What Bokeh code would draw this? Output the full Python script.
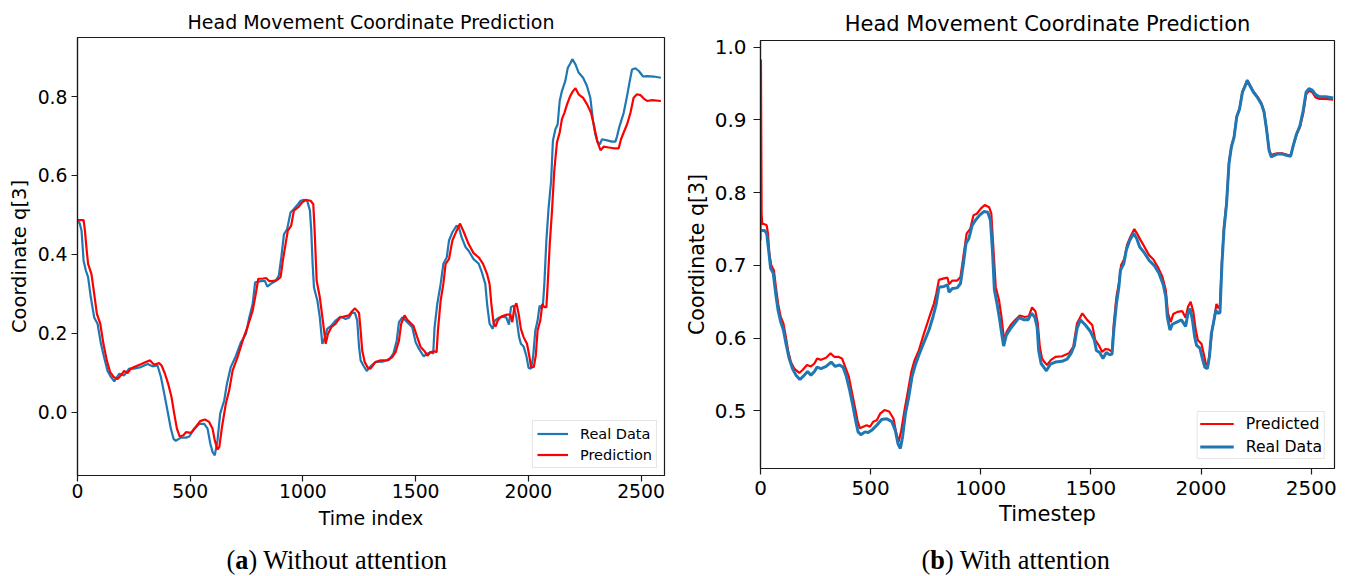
from bokeh.plotting import figure
from bokeh.layouts import row, column
from bokeh.models import Range1d, FixedTicker, PrintfTickFormatter
from bokeh.core.properties import value
from bokeh.embed import file_html
from bokeh.resources import INLINE

# ---------------------------------------------------------------------------
# Data: (time index, coordinate q[3]) samples for each series
# ---------------------------------------------------------------------------
no_att_real = [
    (0, 0.487), (10, 0.478), (18, 0.46), (27, 0.384), (37, 0.359), (47, 0.342), (59, 0.291),
    (74, 0.24), (89, 0.224), (104, 0.173), (118, 0.139), (133, 0.105), (148, 0.089), (163, 0.078),
    (185, 0.097), (207, 0.093), (229, 0.110), (251, 0.110), (281, 0.114), (311, 0.122), (333, 0.116),
    (355, 0.118), (370, 0.089), (385, 0.046), (399, 0.004), (414, -0.042), (426, -0.068), (436, -0.073),
    (459, -0.065), (481, -0.065), (496, -0.062), (518, -0.042), (540, -0.030), (562, -0.030),
    (577, -0.042), (589, -0.080), (599, -0.101), (609, -0.110), (621, -0.072), (633, -0.004),
    (651, 0.030), (663, 0.072), (680, 0.114), (703, 0.143), (725, 0.177), (747, 0.198), (762, 0.24),
    (777, 0.274), (788, 0.329), (814, 0.332), (831, 0.333), (842, 0.318), (857, 0.325), (879, 0.332),
    (893, 0.346), (904, 0.392), (916, 0.451), (930, 0.464), (945, 0.506), (960, 0.515), (978, 0.527),
    (990, 0.536), (1004, 0.538), (1019, 0.536), (1031, 0.511), (1037, 0.460), (1043, 0.376),
    (1049, 0.316), (1064, 0.283), (1075, 0.240), (1086, 0.173), (1096, 0.186), (1108, 0.211),
    (1126, 0.219), (1145, 0.232), (1167, 0.242), (1189, 0.236), (1204, 0.239), (1219, 0.253),
    (1231, 0.251), (1241, 0.232), (1249, 0.165), (1256, 0.131), (1268, 0.118), (1283, 0.104),
    (1300, 0.116), (1322, 0.127), (1352, 0.128), (1382, 0.132), (1401, 0.148), (1416, 0.181),
    (1426, 0.228), (1441, 0.240), (1463, 0.228), (1485, 0.215), (1500, 0.177), (1515, 0.160),
    (1536, 0.141), (1551, 0.148), (1567, 0.152), (1578, 0.148), (1584, 0.215), (1596, 0.274),
    (1611, 0.325), (1623, 0.376), (1638, 0.392), (1648, 0.435), (1663, 0.456), (1682, 0.473),
    (1692, 0.468), (1704, 0.443), (1722, 0.418), (1735, 0.409), (1757, 0.388), (1780, 0.376),
    (1794, 0.354), (1809, 0.325), (1817, 0.274), (1828, 0.224), (1842, 0.211), (1851, 0.232),
    (1868, 0.239), (1888, 0.242), (1902, 0.240), (1914, 0.222), (1923, 0.266), (1935, 0.270),
    (1947, 0.240), (1959, 0.190), (1967, 0.173), (1979, 0.166), (1991, 0.143), (2001, 0.112),
    (2012, 0.110), (2021, 0.139), (2031, 0.207), (2041, 0.232), (2050, 0.270), (2059, 0.262),
    (2065, 0.274), (2071, 0.325), (2080, 0.435), (2090, 0.519), (2101, 0.586), (2109, 0.688),
    (2120, 0.717), (2130, 0.730), (2139, 0.789), (2149, 0.814), (2164, 0.840), (2175, 0.873),
    (2186, 0.884), (2195, 0.895), (2209, 0.882), (2223, 0.861), (2243, 0.848), (2260, 0.827),
    (2275, 0.797), (2287, 0.738), (2297, 0.705), (2308, 0.684), (2317, 0.679), (2327, 0.692),
    (2349, 0.689), (2371, 0.686), (2386, 0.686), (2393, 0.698), (2405, 0.726), (2423, 0.759),
    (2438, 0.802), (2450, 0.840), (2460, 0.869), (2475, 0.872), (2490, 0.865), (2509, 0.851),
    (2527, 0.852), (2556, 0.851), (2588, 0.848),
]

no_att_pred = [
    (0, 0.487), (27, 0.487), (33, 0.46), (41, 0.409), (47, 0.376), (62, 0.35), (74, 0.30),
    (86, 0.249), (101, 0.224), (115, 0.173), (130, 0.131), (145, 0.101), (160, 0.089), (178, 0.084),
    (192, 0.093), (207, 0.104), (222, 0.099), (237, 0.110), (251, 0.114), (281, 0.121), (303, 0.127),
    (322, 0.131), (340, 0.120), (362, 0.124), (373, 0.118), (388, 0.097), (402, 0.072), (417, 0.038),
    (429, -0.004), (441, -0.042), (453, -0.062), (470, -0.059), (481, -0.051), (503, -0.053),
    (525, -0.038), (544, -0.023), (565, -0.019), (584, -0.025), (599, -0.042), (609, -0.072),
    (621, -0.095), (629, -0.089), (641, -0.038), (658, 0.021), (673, 0.055), (688, 0.105),
    (710, 0.139), (740, 0.194), (754, 0.215), (777, 0.257), (791, 0.30), (802, 0.338), (821, 0.338),
    (836, 0.340), (851, 0.332), (864, 0.332), (886, 0.335), (901, 0.342), (911, 0.384), (923, 0.426),
    (933, 0.460), (948, 0.473), (960, 0.511), (982, 0.521), (997, 0.532), (1012, 0.538),
    (1034, 0.536), (1046, 0.527), (1052, 0.460), (1061, 0.333), (1075, 0.291), (1090, 0.224),
    (1101, 0.173), (1111, 0.198), (1126, 0.215), (1145, 0.224), (1164, 0.239), (1182, 0.242),
    (1204, 0.245), (1214, 0.253), (1231, 0.263), (1249, 0.251), (1256, 0.207), (1263, 0.156),
    (1274, 0.127), (1288, 0.112), (1300, 0.110), (1322, 0.127), (1345, 0.131), (1374, 0.132),
    (1396, 0.139), (1411, 0.152), (1426, 0.181), (1436, 0.224), (1451, 0.245), (1463, 0.234),
    (1490, 0.219), (1507, 0.190), (1522, 0.165), (1540, 0.154), (1552, 0.143), (1567, 0.152),
    (1581, 0.154), (1593, 0.152), (1599, 0.207), (1611, 0.283), (1623, 0.325), (1633, 0.376),
    (1648, 0.388), (1663, 0.435), (1682, 0.460), (1697, 0.478), (1714, 0.456), (1735, 0.426),
    (1757, 0.403), (1780, 0.392), (1799, 0.376), (1817, 0.350), (1828, 0.325), (1836, 0.274),
    (1846, 0.224), (1855, 0.217), (1864, 0.232), (1879, 0.242), (1905, 0.247), (1920, 0.247),
    (1929, 0.228), (1938, 0.266), (1947, 0.276), (1957, 0.249), (1967, 0.211), (1979, 0.190),
    (1994, 0.173), (2004, 0.143), (2012, 0.114), (2024, 0.114), (2033, 0.143), (2041, 0.207),
    (2053, 0.232), (2062, 0.274), (2071, 0.266), (2080, 0.266), (2086, 0.325), (2095, 0.426),
    (2105, 0.511), (2115, 0.612), (2127, 0.684), (2139, 0.709), (2149, 0.743), (2160, 0.759),
    (2172, 0.781), (2186, 0.802), (2198, 0.814), (2209, 0.821), (2223, 0.806), (2243, 0.797),
    (2260, 0.781), (2278, 0.759), (2290, 0.730), (2305, 0.688), (2320, 0.664), (2334, 0.673),
    (2357, 0.671), (2379, 0.669), (2401, 0.669), (2411, 0.692), (2423, 0.709), (2438, 0.730),
    (2453, 0.759), (2467, 0.797), (2482, 0.806), (2497, 0.804), (2512, 0.795), (2527, 0.789),
    (2549, 0.791), (2588, 0.789),
]

att_pred = [
    (0, 0.734), (2, 0.983), (5, 0.771), (8, 0.757), (15, 0.757), (28, 0.755), (34, 0.744),
    (40, 0.716), (49, 0.700), (61, 0.693), (70, 0.670), (80, 0.647), (92, 0.629), (104, 0.620),
    (115, 0.602), (125, 0.583), (138, 0.567), (153, 0.558), (176, 0.552), (191, 0.556), (211, 0.563),
    (229, 0.561), (245, 0.565), (257, 0.572), (275, 0.570), (298, 0.573), (318, 0.579), (336, 0.574),
    (355, 0.574), (370, 0.572), (385, 0.560), (401, 0.547), (416, 0.524), (428, 0.506), (440, 0.487),
    (451, 0.476), (466, 0.478), (482, 0.480), (497, 0.478), (512, 0.485), (528, 0.487), (543, 0.496),
    (563, 0.501), (584, 0.499), (604, 0.489), (615, 0.471), (627, 0.457), (639, 0.473), (654, 0.501),
    (670, 0.528), (685, 0.554), (700, 0.570), (719, 0.583), (742, 0.606), (757, 0.620), (772, 0.634),
    (787, 0.647), (798, 0.661), (810, 0.680), (833, 0.682), (849, 0.683), (856, 0.674), (871, 0.679),
    (893, 0.679), (908, 0.684), (921, 0.712), (936, 0.744), (952, 0.750), (967, 0.769), (982, 0.771),
    (1000, 0.778), (1018, 0.783), (1038, 0.780), (1048, 0.771), (1057, 0.725), (1068, 0.670),
    (1083, 0.652), (1094, 0.629), (1106, 0.597), (1118, 0.609), (1136, 0.618), (1154, 0.624),
    (1177, 0.631), (1200, 0.629), (1218, 0.630), (1233, 0.642), (1248, 0.637), (1259, 0.620),
    (1268, 0.588), (1278, 0.572), (1289, 0.567), (1301, 0.563), (1319, 0.570), (1339, 0.574),
    (1369, 0.575), (1400, 0.579), (1420, 0.588), (1437, 0.620), (1461, 0.634), (1483, 0.625),
    (1506, 0.618), (1520, 0.597), (1536, 0.590), (1551, 0.581), (1567, 0.585), (1582, 0.584),
    (1596, 0.581), (1604, 0.620), (1616, 0.657), (1627, 0.675), (1637, 0.700), (1652, 0.709),
    (1664, 0.728), (1679, 0.739), (1697, 0.750), (1709, 0.744), (1725, 0.735), (1744, 0.725),
    (1764, 0.714), (1784, 0.708), (1805, 0.697), (1825, 0.684), (1840, 0.666), (1850, 0.634),
    (1862, 0.622), (1874, 0.633), (1893, 0.636), (1915, 0.637), (1930, 0.628), (1941, 0.643),
    (1953, 0.650), (1965, 0.636), (1976, 0.611), (1986, 0.597), (2002, 0.592), (2014, 0.576),
    (2023, 0.563), (2032, 0.565), (2041, 0.583), (2050, 0.611), (2059, 0.625), (2070, 0.647),
    (2079, 0.641), (2086, 0.645), (2095, 0.707), (2104, 0.753), (2116, 0.787), (2127, 0.842),
    (2138, 0.864), (2150, 0.877), (2162, 0.905), (2175, 0.916), (2188, 0.939), (2198, 0.946),
    (2210, 0.955), (2222, 0.948), (2238, 0.939), (2256, 0.932), (2274, 0.923), (2286, 0.912),
    (2298, 0.886), (2309, 0.859), (2319, 0.851), (2331, 0.853), (2346, 0.854), (2369, 0.854),
    (2392, 0.852), (2407, 0.851), (2419, 0.865), (2434, 0.880), (2449, 0.890), (2464, 0.909),
    (2477, 0.935), (2490, 0.940), (2505, 0.938), (2520, 0.931), (2536, 0.929), (2566, 0.929),
    (2600, 0.928),
]

att_real = [
    (3, 0.748), (18, 0.748), (28, 0.744), (37, 0.721), (46, 0.696), (58, 0.689), (69, 0.661),
    (80, 0.638), (92, 0.622), (104, 0.611), (116, 0.592), (130, 0.572), (145, 0.558), (161, 0.549),
    (179, 0.543), (196, 0.548), (214, 0.554), (229, 0.549), (245, 0.554), (257, 0.560), (275, 0.558),
    (298, 0.561), (321, 0.567), (339, 0.561), (359, 0.563), (375, 0.560), (390, 0.547), (405, 0.528),
    (420, 0.506), (433, 0.485), (443, 0.471), (456, 0.467), (474, 0.471), (489, 0.470), (508, 0.474),
    (528, 0.480), (550, 0.488), (573, 0.489), (596, 0.485), (612, 0.473), (624, 0.455), (635, 0.448),
    (645, 0.464), (658, 0.496), (673, 0.519), (688, 0.547), (703, 0.563), (722, 0.579), (746, 0.597),
    (765, 0.611), (783, 0.629), (798, 0.647), (810, 0.670), (833, 0.671), (849, 0.673), (856, 0.663),
    (871, 0.668), (893, 0.669), (908, 0.675), (921, 0.702), (933, 0.730), (946, 0.737), (961, 0.755),
    (976, 0.762), (995, 0.769), (1014, 0.774), (1032, 0.773), (1044, 0.762), (1053, 0.721),
    (1062, 0.666), (1074, 0.647), (1086, 0.625), (1097, 0.602), (1104, 0.589), (1116, 0.604),
    (1135, 0.613), (1153, 0.620), (1174, 0.628), (1197, 0.625), (1215, 0.625), (1230, 0.634),
    (1245, 0.629), (1256, 0.615), (1263, 0.583), (1274, 0.565), (1286, 0.560), (1298, 0.555),
    (1316, 0.564), (1339, 0.567), (1369, 0.568), (1392, 0.571), (1410, 0.579), (1425, 0.590),
    (1437, 0.613), (1452, 0.625), (1475, 0.618), (1498, 0.609), (1516, 0.597), (1525, 0.583),
    (1540, 0.580), (1555, 0.572), (1570, 0.580), (1585, 0.577), (1596, 0.578), (1604, 0.611),
    (1616, 0.647), (1627, 0.670), (1634, 0.693), (1649, 0.702), (1661, 0.721), (1676, 0.734),
    (1694, 0.744), (1708, 0.737), (1722, 0.725), (1741, 0.718), (1764, 0.707), (1787, 0.700),
    (1809, 0.689), (1829, 0.673), (1840, 0.657), (1847, 0.629), (1859, 0.611), (1870, 0.619),
    (1890, 0.622), (1911, 0.625), (1930, 0.616), (1941, 0.634), (1950, 0.641), (1961, 0.625),
    (1971, 0.602), (1980, 0.590), (1995, 0.586), (2006, 0.572), (2017, 0.560), (2029, 0.558),
    (2038, 0.574), (2047, 0.606), (2056, 0.620), (2067, 0.638), (2077, 0.634), (2086, 0.635),
    (2095, 0.702), (2104, 0.748), (2116, 0.785), (2127, 0.840), (2138, 0.863), (2150, 0.876),
    (2162, 0.904), (2175, 0.915), (2188, 0.938), (2198, 0.945), (2210, 0.954), (2222, 0.947),
    (2238, 0.938), (2256, 0.931), (2274, 0.922), (2286, 0.911), (2298, 0.886), (2309, 0.858),
    (2319, 0.849), (2331, 0.851), (2346, 0.853), (2369, 0.853), (2392, 0.851), (2407, 0.850),
    (2419, 0.865), (2434, 0.881), (2449, 0.892), (2464, 0.913), (2477, 0.938), (2490, 0.943),
    (2505, 0.941), (2520, 0.935), (2536, 0.932), (2566, 0.932), (2600, 0.930),
]

x_ticks = [0, 500, 1000, 1500, 2000, 2500]
y_ticks_a = [0.0, 0.2, 0.4, 0.6, 0.8]
y_ticks_b = [0.5, 0.6, 0.7, 0.8, 0.9, 1.0]

BLUE = "#1f77b4"
RED = "#ff0000"
SANS = "DejaVu Sans"
SERIF = "Liberation Serif"
INK = "#1a1a1a"

PANEL_W = 674
PLOT_H = 540
CAPTION_H = 36
CAPTION_SIZE = 26.3


def unzip(series):
    return [t for t, _ in series], [v for _, v in series]


def free_frame(p):
    # keep each panel's own frame geometry inside the row/column layout
    if "frame_align" in p.properties():
        p.frame_align = False


def make_panel(x_end, y_start, y_end, y_ticks, borders, st, xlabel):
    left, right, top, bottom = borders
    p = figure(width=PANEL_W, height=PLOT_H, output_backend="svg", toolbar_location=None,
               x_range=Range1d(0, x_end), y_range=Range1d(y_start, y_end),
               min_border_left=left, min_border_right=right,
               min_border_top=top, min_border_bottom=bottom,
               background_fill_color="white", border_fill_color="white")
    free_frame(p)
    p.grid.visible = False
    p.outline_line_color = INK
    p.outline_line_width = 1.2

    p.title.text = "Head Movement Coordinate Prediction"
    p.title.align = "center"
    p.title.text_font = SANS
    p.title.text_font_style = "normal"
    p.title.text_font_size = f"{st['title']}px"
    p.title.text_color = "black"
    p.title.standoff = st["title_standoff"]

    for ax in (p.xaxis[0], p.yaxis[0]):
        ax.axis_line_color = INK
        ax.axis_line_width = 1.2
        ax.major_tick_line_color = INK
        ax.major_tick_line_width = 1.2
        ax.major_tick_in = 0
        ax.minor_tick_line_color = None
        ax.major_label_text_font = SANS
        ax.major_label_text_font_size = f"{st['tick']}px"
        ax.major_label_text_color = "black"
        ax.axis_label_text_font = SANS
        ax.axis_label_text_font_style = "normal"
        ax.axis_label_text_color = "black"

    xa, ya = p.xaxis[0], p.yaxis[0]
    xa.major_tick_out = st["xtick_len"]
    ya.major_tick_out = st["ytick_len"]
    xa.major_label_standoff = st["xlab_standoff"]
    ya.major_label_standoff = st["ylab_standoff"]
    xa.axis_label_text_font_size = f"{st['xlabel']}px"
    ya.axis_label_text_font_size = f"{st['ylabel']}px"
    xa.axis_label_standoff = st["xaxis_standoff"]
    ya.axis_label_standoff = st["yaxis_standoff"]

    xa.ticker = FixedTicker(ticks=x_ticks)
    ya.ticker = FixedTicker(ticks=y_ticks)
    ya.formatter = PrintfTickFormatter(format="%.1f")
    xa.axis_label = xlabel
    ya.axis_label = "Coordinate q[3]"
    return p


def style_legend(p, st):
    lg = p.legend[0]
    lg.location = "bottom_right"
    lg.label_text_font = SANS
    lg.label_text_font_size = f"{st['legend']}px"
    lg.label_text_color = "black"
    lg.border_line_color = "#cccccc"
    lg.border_line_width = 1
    lg.background_fill_color = "white"
    lg.background_fill_alpha = 0.85
    lg.glyph_width = st["glyph_w"]
    lg.glyph_height = st["row_h"]
    lg.label_height = st["row_h"]
    lg.label_standoff = 12
    lg.spacing = st["row_gap"]
    lg.padding = st["pad"]
    lg.margin = st["margin"]


def caption_strip(x0, letter, rest):
    # Sub-figure caption "(x) ..." with the letter in bold, as three text runs
    c = figure(width=PANEL_W, height=CAPTION_H, output_backend="svg", toolbar_location=None,
               x_range=Range1d(0, PANEL_W), y_range=Range1d(0, CAPTION_H),
               min_border=0, background_fill_color="white", border_fill_color="white")
    free_frame(c)
    c.axis.visible = False
    c.grid.visible = False
    c.outline_line_color = None
    w_paren = 0.333 * CAPTION_SIZE
    w_letter = (0.5 if letter == "a" else 0.556) * CAPTION_SIZE
    y0 = CAPTION_H - 20
    common = dict(text_font=value(SERIF), text_font_size=f"{CAPTION_SIZE}px",
                  text_color="black", text_baseline="middle", text_align="left")
    c.text(x=[x0], y=[y0], text=["("], **common)
    c.text(x=[x0 + w_paren], y=[y0], text=[letter], text_font_style="bold", **common)
    c.text(x=[x0 + w_paren + w_letter], y=[y0], text=[")" + rest], **common)
    return c


# ---------------------------------------------------------------------------
# (a) Without attention
# ---------------------------------------------------------------------------
st_a = dict(title=19, title_standoff=9, tick=18.8, xlabel=19, ylabel=19.5, legend=14.5,
            xtick_len=6, ytick_len=6, xlab_standoff=2, ylab_standoff=4,
            xaxis_standoff=6, yaxis_standoff=4,
            glyph_w=31, row_h=17, row_gap=4, pad=4, margin=7)
pa = make_panel(2604, -0.161, 0.950, y_ticks_a, (77, 10, 37, PLOT_H - 475), st_a, "Time index")
xr, yr = unzip(no_att_real)
xp, yp = unzip(no_att_pred)
pa.line(xr, yr, color=BLUE, line_width=2.2, legend_label="Real Data")
pa.line(xp, yp, color=RED, line_width=2.2, legend_label="Prediction")
style_legend(pa, st_a)
cap_a = caption_strip(226, "a", " Without attention")

# ---------------------------------------------------------------------------
# (b) With attention
# ---------------------------------------------------------------------------
st_b = dict(title=21, title_standoff=10, tick=20, xlabel=21, ylabel=20.5, legend=15.7,
            xtick_len=6, ytick_len=7, xlab_standoff=6, ylab_standoff=7,
            xaxis_standoff=4, yaxis_standoff=3,
            glyph_w=34, row_h=19, row_gap=4, pad=2, margin=9)
pb = make_panel(2606, 0.4206, 1.0092, y_ticks_b, (86, 14, 40, PLOT_H - 468), st_b, "Timestep")
xp2, yp2 = unzip(att_pred)
xr2, yr2 = unzip(att_real)
pb.line(xp2, yp2, color=RED, line_width=2.2, legend_label="Predicted")
pb.line(xr2, yr2, color=BLUE, line_width=3, legend_label="Real Data")
style_legend(pb, st_b)
cap_b = caption_strip(247, "b", " With attention")

layout = column(row(pa, pb, spacing=0), row(cap_a, cap_b, spacing=0), spacing=0)
open("out.html", "w").write(file_html(layout, INLINE))
